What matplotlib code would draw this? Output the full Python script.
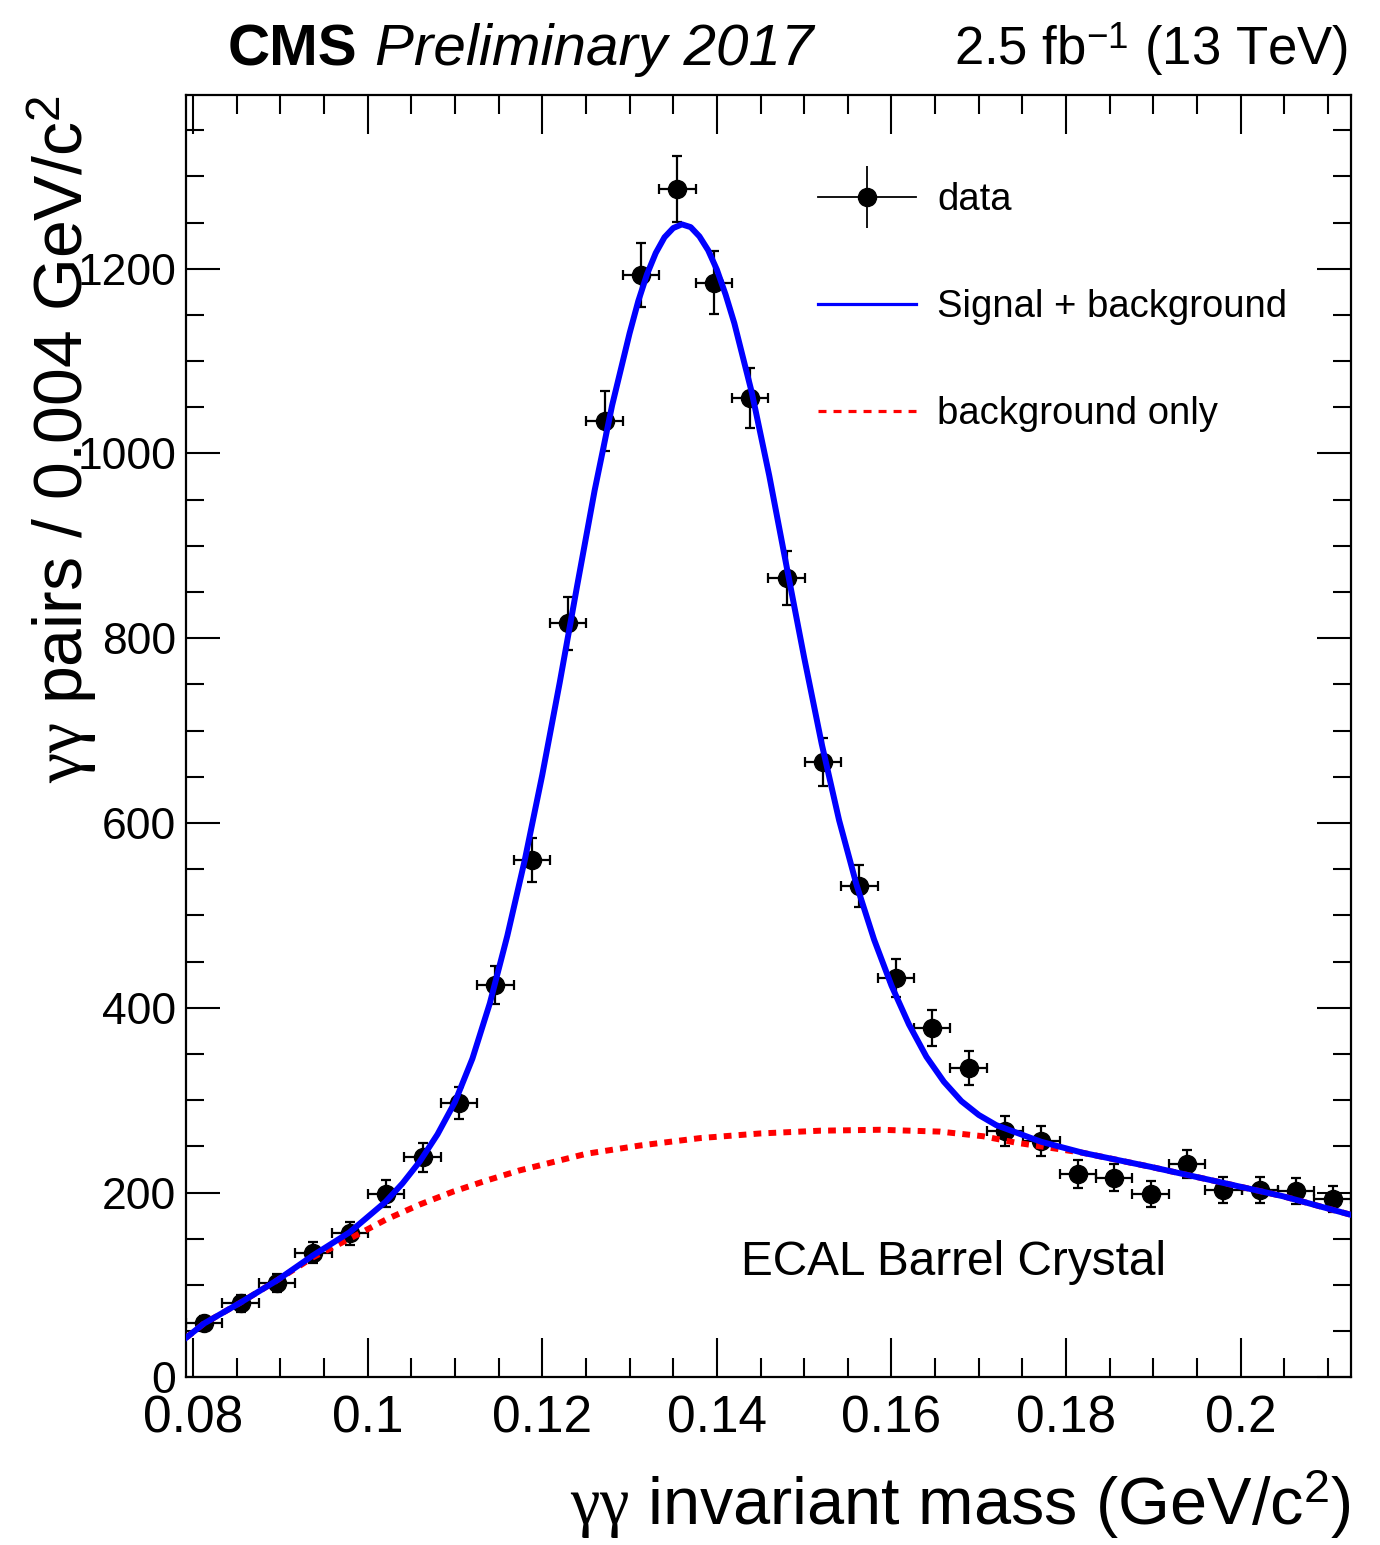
import numpy as np
import matplotlib
matplotlib.use('Agg')
import matplotlib.pyplot as plt
from matplotlib.lines import Line2D
from matplotlib.legend_handler import HandlerTuple
from matplotlib.ticker import MultipleLocator, FuncFormatter

plt.rcParams['font.family'] = ['Liberation Sans', 'DejaVu Sans']
plt.rcParams['mathtext.fontset'] = 'custom'
plt.rcParams['mathtext.rm'] = 'Liberation Sans'
plt.rcParams['mathtext.it'] = 'Liberation Serif'
plt.rcParams['mathtext.bf'] = 'Liberation Sans:bold'

# diphoton invariant mass histogram (bin centres in GeV/c^2)
mass = [0.08128, 0.08545, 0.08962, 0.09379, 0.09796, 0.10213, 0.10630, 0.11047,
        0.11464, 0.11880, 0.12297, 0.12714, 0.13131, 0.13548, 0.13965, 0.14382,
        0.14799, 0.15216, 0.15632, 0.16049, 0.16466, 0.16883, 0.17300, 0.17717,
        0.18134, 0.18551, 0.18968, 0.19384, 0.19801, 0.20218, 0.20635, 0.21052]
counts = [59, 80, 102, 135, 156, 199, 238, 297,
          425, 560, 816, 1035, 1193, 1286, 1185, 1060,
          865, 666, 532, 432, 378, 335, 267, 256,
          220, 216, 198, 231, 203, 203, 202, 193]
count_err = [7.7, 8.9, 10.1, 11.6, 12.5, 14.1, 15.4, 17.2,
             20.6, 23.7, 28.6, 32.2, 34.5, 35.9, 34.4, 32.6,
             29.4, 25.8, 23.1, 20.8, 19.4, 18.3, 16.3, 16.0,
             14.8, 14.7, 14.1, 15.2, 14.2, 14.2, 14.2, 13.9]
half_bin = 0.00208

# fitted signal + background curve
fit_mass = [0.07923, 0.08121, 0.08545, 0.08962, 0.09374, 0.09793, 0.10205, 0.104,
            0.106, 0.108, 0.110, 0.112, 0.114, 0.116, 0.118, 0.120,
            0.122, 0.124, 0.126, 0.128, 0.130, 0.131, 0.132, 0.133,
            0.134, 0.135, 0.136, 0.137, 0.138, 0.139, 0.140, 0.141,
            0.142, 0.144, 0.146, 0.148, 0.150, 0.152, 0.154, 0.156,
            0.158, 0.160, 0.162, 0.164, 0.166, 0.168, 0.170, 0.172,
            0.17714, 0.18195, 0.18962, 0.19729, 0.20485, 0.21260]
fit_total = [43, 58, 81, 105, 132, 157, 190, 210,
             234, 263, 298, 345, 405, 478, 560, 652,
             752, 857, 960, 1052, 1130, 1165, 1194, 1217,
             1234, 1244, 1248, 1245, 1235, 1220, 1199, 1172,
             1141, 1066, 976, 877, 779, 686, 603, 533,
             474, 424, 382, 347, 320, 299, 284, 273,
             255, 243, 228, 212, 196, 176]

# background-only component
bkg_mass = [0.07923, 0.08121, 0.08545, 0.08962, 0.09374, 0.09793, 0.10214, 0.10595,
            0.10977, 0.11359, 0.11740, 0.12122, 0.12504, 0.13122, 0.13809, 0.14496,
            0.15183, 0.15870, 0.16557, 0.17049, 0.17427, 0.17714, 0.18195, 0.18962,
            0.19729, 0.20485, 0.21260]
fit_bkg = [43, 58, 81, 105, 130, 150, 171, 187,
           201, 213, 224, 233, 242, 251, 259, 264,
           267, 268, 266, 261, 254, 250, 243, 228,
           212, 196, 176]

fig = plt.figure(figsize=(13.8, 15.45), dpi=100)
ax = fig.add_axes([0.1348, 0.1085, 0.8440, 0.8300])

ax.errorbar(mass, counts, xerr=half_bin, yerr=count_err, fmt='o', color='k',
            ms=13, elinewidth=1.6, capsize=3.5, capthick=1.6, zorder=2)
ax.plot(bkg_mass, fit_bkg, color='#ff0000', lw=4.3, ls=(0, (1.3, 1.2)), zorder=3)
ax.plot(fit_mass, fit_total, color='#0000ff', lw=4.3, zorder=4,
        solid_joinstyle='round')

ax.set_xlim(0.0792, 0.2126)
ax.set_ylim(0, 1388)

ax.xaxis.set_major_locator(MultipleLocator(0.02))
ax.xaxis.set_minor_locator(MultipleLocator(0.005))
ax.yaxis.set_major_locator(MultipleLocator(200))
ax.yaxis.set_minor_locator(MultipleLocator(50))
ax.xaxis.set_major_formatter(FuncFormatter(lambda v, _: f'{v:g}'))

ax.tick_params(which='both', direction='in', top=True, right=True, width=1.5)
ax.tick_params(axis='x', which='major', length=28, labelsize=37, pad=12)
ax.tick_params(axis='x', which='minor', length=14)
ax.tick_params(axis='y', which='major', length=24.5, labelsize=32, pad=7)
ax.tick_params(axis='y', which='minor', length=12.7)
for sp in ax.spines.values():
    sp.set_linewidth(1.6)

ax.set_xlabel(r'$\gamma\gamma$ invariant mass (GeV/c$^{2}$)', fontsize=48,
              loc='right', va='center')
ax.xaxis.set_label_coords(1.0, -0.0996)
ax.set_ylabel(r'$\gamma\gamma$ pairs / 0.004 GeV/c$^{2}$', fontsize=49,
              loc='top', va='center')
ax.yaxis.set_label_coords(-0.1065, 1.0)

# legend
h_data = (Line2D([], [], color='k', lw=1.3, marker='o', ms=13),
          Line2D([], [], ls='none', color='k', marker='|', ms=45, mew=1.3))
h_fit = Line2D([], [], color='#0000ff', lw=2.3)
h_bkg = Line2D([], [], color='#ff0000', lw=2.3, ls=(0, (2.5, 2.2)))
ax.legend([h_data, h_fit, h_bkg], ['data', 'Signal + background', 'background only'],
          handler_map={tuple: HandlerTuple(ndivide=1, pad=0)},
          loc='upper left', bbox_to_anchor=(0.5426, 0.932), frameon=False,
          fontsize=27.5, handlelength=2.57, handletextpad=0.55,
          labelspacing=1.86, borderpad=0, borderaxespad=0)

ax.text(0.659, 0.0899, 'ECAL Barrel Crystal', transform=ax.transAxes,
        fontsize=34.4, ha='center', va='center')

fig.text(0.1652, 0.9579, 'CMS', fontsize=42, fontweight='bold', va='baseline')
fig.text(0.2717, 0.9579, 'Preliminary 2017', fontsize=42, style='italic', va='baseline')
fig.text(0.9768, 0.9579, r'2.5 fb$^{-1}$ (13 TeV)', fontsize=38, ha='right', va='baseline')

fig.savefig('out.png', dpi=100)
